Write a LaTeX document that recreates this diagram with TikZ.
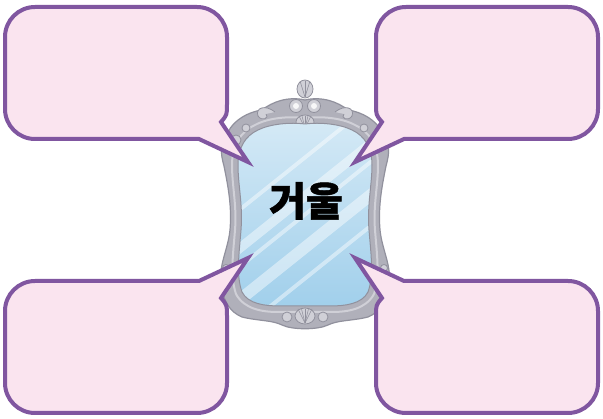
\documentclass[tikz,border=0pt]{standalone}
\usepackage{fontspec}
\newfontfamily\krfont{Noto Sans CJK KR}[BoldFeatures={FakeBold=1.2}]
\usetikzlibrary{shadings}
\definecolor{bubfill}{RGB}{250,228,239}
\definecolor{bubline}{RGB}{128,86,160}
\definecolor{framefill}{RGB}{176,176,186}
\definecolor{frameline}{RGB}{145,145,157}
\definecolor{frameLight}{RGB}{208,208,215}
\definecolor{glassTop}{RGB}{214,234,246}
\definecolor{glassBot}{RGB}{160,207,235}
\tikzset{
  bubstyle/.style={draw=bubline, fill=bubfill, line width=4},
  framestyle/.style={draw=frameline, fill=framefill, line width=1.2},
  ornament/.style={draw=frameline, fill=frameLight, line width=0.8},
  stripe/.style={white, opacity=0.45}
}
\begin{document}
\begin{tikzpicture}[x=1pt,y=-1pt]
\useasboundingbox (0,0) rectangle (603,419);
\fill[white] (0,0) rectangle (603,419);
% ---- mirror frame ----
\draw[framestyle] (305,100) .. controls (322,96) and (338,102) .. (348,110)
  .. controls (362,112) and (376,120) .. (382,132)
  .. controls (390,142) and (390,152) .. (386,166)
  .. controls (382,186) and (378,206) .. (380,230)
  .. controls (382,250) and (392,266) .. (389,286)
  .. controls (386,302) and (380,312) .. (368,317)
  .. controls (352,321) and (338,320) .. (328,325)
  .. controls (318,330) and (292,330) .. (282,325)
  .. controls (272,320) and (258,321) .. (242,317)
  .. controls (230,312) and (224,302) .. (221,286)
  .. controls (218,266) and (228,250) .. (230,230)
  .. controls (232,206) and (228,186) .. (224,166)
  .. controls (220,152) and (220,142) .. (228,132)
  .. controls (234,120) and (248,112) .. (262,110)
  .. controls (272,102) and (288,96) .. (305,100) -- cycle;
% inner rim
\draw[draw=frameLight, line width=2] (305,118) .. controls (322,116) and (342,118) .. (355,125)
  .. controls (370,132) and (378,146) .. (378,165)
  .. controls (378,186) and (373,206) .. (375,230)
  .. controls (377,255) and (380,276) .. (374,294)
  .. controls (366,309) and (348,312) .. (332,312)
  -- (278,312)
  .. controls (262,312) and (244,309) .. (236,294)
  .. controls (230,276) and (233,255) .. (235,230)
  .. controls (237,206) and (232,186) .. (232,165)
  .. controls (232,146) and (240,132) .. (255,125)
  .. controls (268,118) and (288,116) .. (305,118) -- cycle;
% ornaments top
\draw[ornament] (305,89) ellipse[x radius=8, y radius=9];
\foreach \a in {-5,0,5} \draw[frameline, line width=0.6] (305,97) -- (305+\a,81);
\draw[ornament] (296,106) circle[radius=6.5];
\draw[ornament] (314,106) circle[radius=6.5];
\fill[white!90!framefill] (296,106) circle[radius=3];
\fill[white!90!framefill] (314,106) circle[radius=3];
\draw[ornament] (305,122) ellipse[x radius=9, y radius=7];
\foreach \a in {-6,-3,0,3,6} \draw[frameline, line width=0.5] (305,128) -- (305+\a,116);
\draw[ornament] (275,112) .. controls (265,104) and (255,108) .. (258,116) .. controls (262,122) and (270,118) .. (266,114);
\draw[ornament] (335,112) .. controls (345,104) and (355,108) .. (352,116) .. controls (348,122) and (340,118) .. (344,114);
\draw[ornament] (236,140) circle[radius=5];
\draw[ornament] (374,140) circle[radius=5];
\draw[ornament] (246,128) circle[radius=4];
\draw[ornament] (364,128) circle[radius=4];
% ornaments bottom
\draw[ornament] (305,316) ellipse[x radius=10, y radius=8];
\foreach \a in {-7,-3.5,0,3.5,7} \draw[frameline, line width=0.5] (305,323) -- (305+\a,309);
\draw[ornament] (287,317) circle[radius=5];
\draw[ornament] (323,317) circle[radius=5];
\draw[ornament] (226,268) circle[radius=3.5];
\draw[ornament] (384,268) circle[radius=3.5];
% ---- glass ----
\begin{scope}
\path[clip] (305,124) .. controls (320,122) and (340,124) .. (352,130)
  .. controls (365,136) and (372,148) .. (372,165)
  .. controls (372,185) and (367,205) .. (369,230)
  .. controls (371,255) and (374,275) .. (368,292)
  .. controls (362,304) and (345,306) .. (330,306)
  -- (280,306)
  .. controls (265,306) and (248,304) .. (242,292)
  .. controls (236,275) and (239,255) .. (241,230)
  .. controls (243,205) and (238,185) .. (238,165)
  .. controls (238,148) and (245,136) .. (258,130)
  .. controls (270,124) and (290,122) .. (305,124) -- cycle;
\shade[top color=glassTop, bottom color=glassBot] (230,115) rectangle (380,310);
\fill[stripe] (230,250) -- (380,130) -- (380,142) -- (230,262) -- cycle;
\fill[stripe] (230,272) -- (380,152) -- (380,157) -- (230,277) -- cycle;
\fill[stripe] (230,300) -- (380,180) -- (380,195) -- (230,315) -- cycle;
\fill[stripe] (230,215) -- (380,95) -- (380,100) -- (230,220) -- cycle;
\fill[stripe] (250,320) -- (390,208) -- (390,213) -- (250,325) -- cycle;
\end{scope}
\draw[frameline, line width=1] (305,124) .. controls (320,122) and (340,124) .. (352,130)
  .. controls (365,136) and (372,148) .. (372,165)
  .. controls (372,185) and (367,205) .. (369,230)
  .. controls (371,255) and (374,275) .. (368,292)
  .. controls (362,304) and (345,306) .. (330,306)
  -- (280,306)
  .. controls (265,306) and (248,304) .. (242,292)
  .. controls (236,275) and (239,255) .. (241,230)
  .. controls (243,205) and (238,185) .. (238,165)
  .. controls (238,148) and (245,136) .. (258,130)
  .. controls (270,124) and (290,122) .. (305,124) -- cycle;
% title
\node[font=\krfont\bfseries\fontsize{40}{44}\selectfont, inner sep=0pt] (title) at (306,201) {거울};
% ---- bubbles ----
\foreach \sx/\dx/\sy/\dy in {1/0/1/0, -1/603/1/0, 1/0/-1/-420, -1/603/-1/-420} {
  \begin{scope}[xshift=\dx pt, yshift=\dy pt, xscale=\sx, yscale=\sy]
    \draw[bubstyle] (35,7) -- (197,7) arc[start angle=270, end angle=360, radius=30]
      -- (227,104) .. controls (227,115) .. (221,122) -- (248,162) -- (199,139)
      -- (35,139) arc[start angle=90, end angle=180, radius=30]
      -- (5,37) arc[start angle=180, end angle=270, radius=30] -- cycle;
  \end{scope}
}
\end{tikzpicture}
\end{document}
